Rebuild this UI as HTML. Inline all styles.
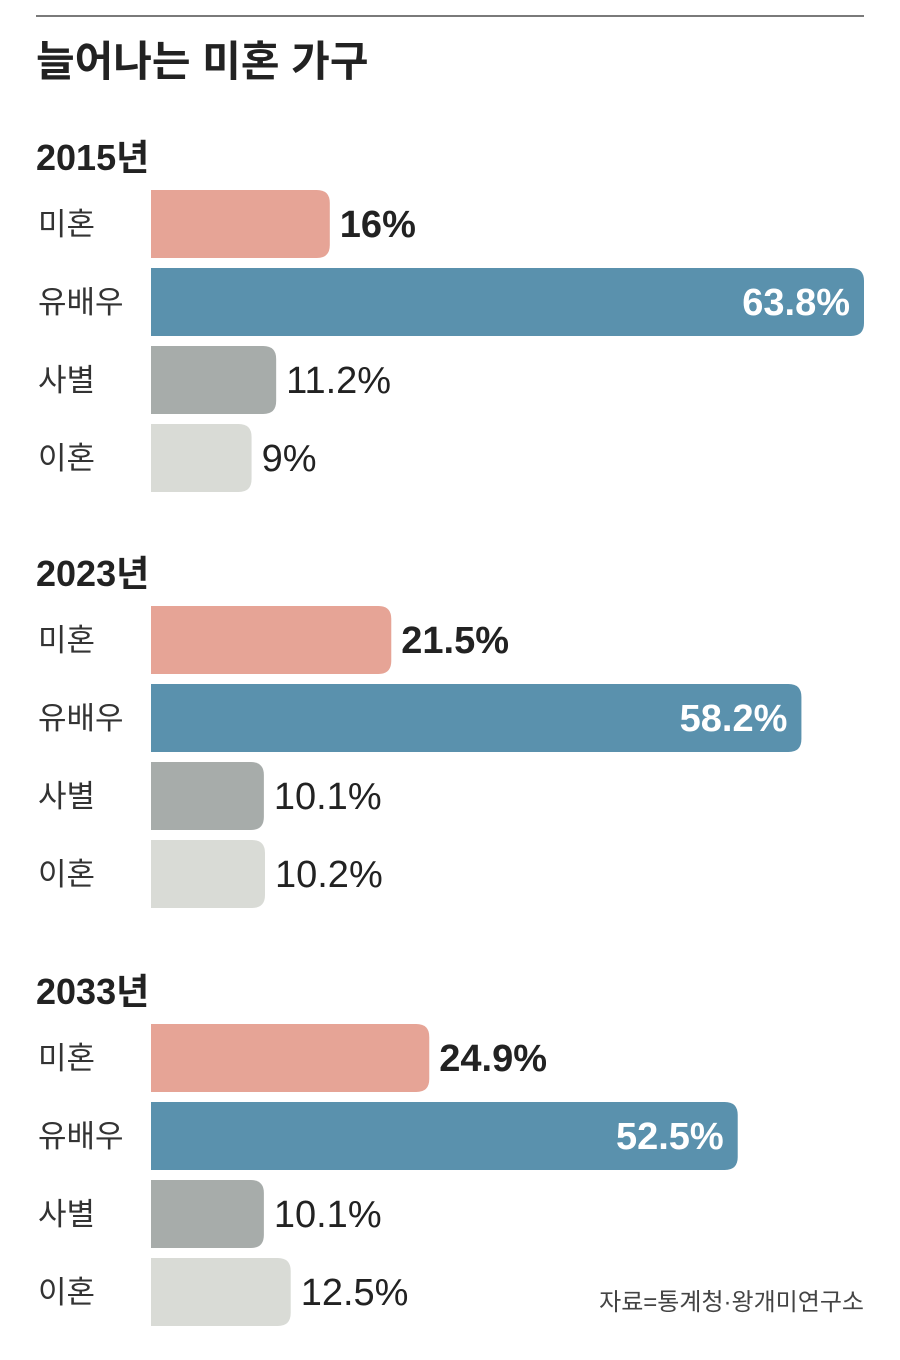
<!DOCTYPE html>
<html><head><meta charset="utf-8">
<style>
html,body{margin:0;padding:0;background:#fff;width:900px;height:1360px;overflow:hidden}
svg{display:block}
text{font-family:"Liberation Sans","Noto Sans CJK KR",sans-serif}
.num{font-family:"Liberation Sans Narrow","Liberation Sans","Noto Sans CJK KR",sans-serif}
</style></head>
<body>
<svg id="chart" width="900" height="1360" viewBox="0 0 900 1360" xmlns="http://www.w3.org/2000/svg">
<line x1="36" y1="16" x2="864" y2="16" stroke="#7a7a7a" stroke-width="2"/>
<text x="36" y="76" font-size="42" font-weight="bold" fill="#222" font-family="Noto Sans CJK KR, sans-serif">늘어나는 미혼 가구</text>
<text x="864" y="1310" font-size="24" fill="#444" text-anchor="end" font-family="Noto Sans CJK KR, sans-serif">자료=통계청·왕개미연구소</text>
<g id="bars"></g>
</svg>
<script>
const years = ["2015년", "2023년", "2033년"];
const categories = ["미혼", "유배우", "사별", "이혼"];
const values2015 = [16, 63.8, 11.2, 9];
const values2023 = [21.5, 58.2, 10.1, 10.2];
const values2033 = [24.9, 52.5, 10.1, 12.5];
const valueLabels2015 = ["16%", "63.8%", "11.2%", "9%"];
const valueLabels2023 = ["21.5%", "58.2%", "10.1%", "10.2%"];
const valueLabels2033 = ["24.9%", "52.5%", "10.1%", "12.5%"];

const allValues = [values2015, values2023, values2033];
const allLabels = [valueLabels2015, valueLabels2023, valueLabels2033];
const colors = ["#e6a496", "#5a91ad", "#a7acaa", "#d9dbd6"];
const x0 = 151, pxPerPct = (864 - 151) / 63.8;
const xScale = v => x0 + v * pxPerPct;
const groupTop = [190, 606, 1024];
const barH = 68, step = 78, r = 13;
const NS = "http://www.w3.org/2000/svg";
const g = document.getElementById("bars");

function mk(tag, attrs) {
  const e = document.createElementNS(NS, tag);
  for (const k in attrs) e.setAttribute(k, attrs[k]);
  return e;
}

years.forEach((yr, gi) => {
  const top = groupTop[gi];
  const yt = mk("text", {x: 36, y: top - 20, "font-size": 36, "font-weight": "bold", fill: "#222", "class": "num"});
  
  
  yt.textContent = yr;
  g.appendChild(yt);
  categories.forEach((cat, ci) => {
    const y = top + ci * step;
    const v = allValues[gi][ci];
    const xe = xScale(v);
    const w = xe - x0;
    const lab = mk("text", {x: 38, y: y + barH / 2 + 11, "font-size": 31, fill: "#333", "font-family": "Noto Sans CJK KR, sans-serif"});
    
    
    lab.textContent = cat;
    g.appendChild(lab);
    const d = `M${x0},${y} H${xe - r} Q${xe},${y} ${xe},${y + r} V${y + barH - r} Q${xe},${y + barH} ${xe - r},${y + barH} H${x0} Z`;
    const bar = mk("path", {d: d, fill: colors[ci]});
    
    
    g.appendChild(bar);
    const t = mk("text", {y: y + barH / 2 + 13, "font-size": 38, "class": "num"});
    
    
    if (ci === 1) {
      t.setAttribute("x", xe - 14);
      t.setAttribute("text-anchor", "end");
      t.setAttribute("fill", "#fff");
      t.setAttribute("font-weight", "bold");
    } else {
      t.setAttribute("x", xe + 10);
      t.setAttribute("fill", "#222");
      if (ci === 0) t.setAttribute("font-weight", "bold");
    }
    t.textContent = allLabels[gi][ci];
    g.appendChild(t);
  });
});
</script>
</body></html>
